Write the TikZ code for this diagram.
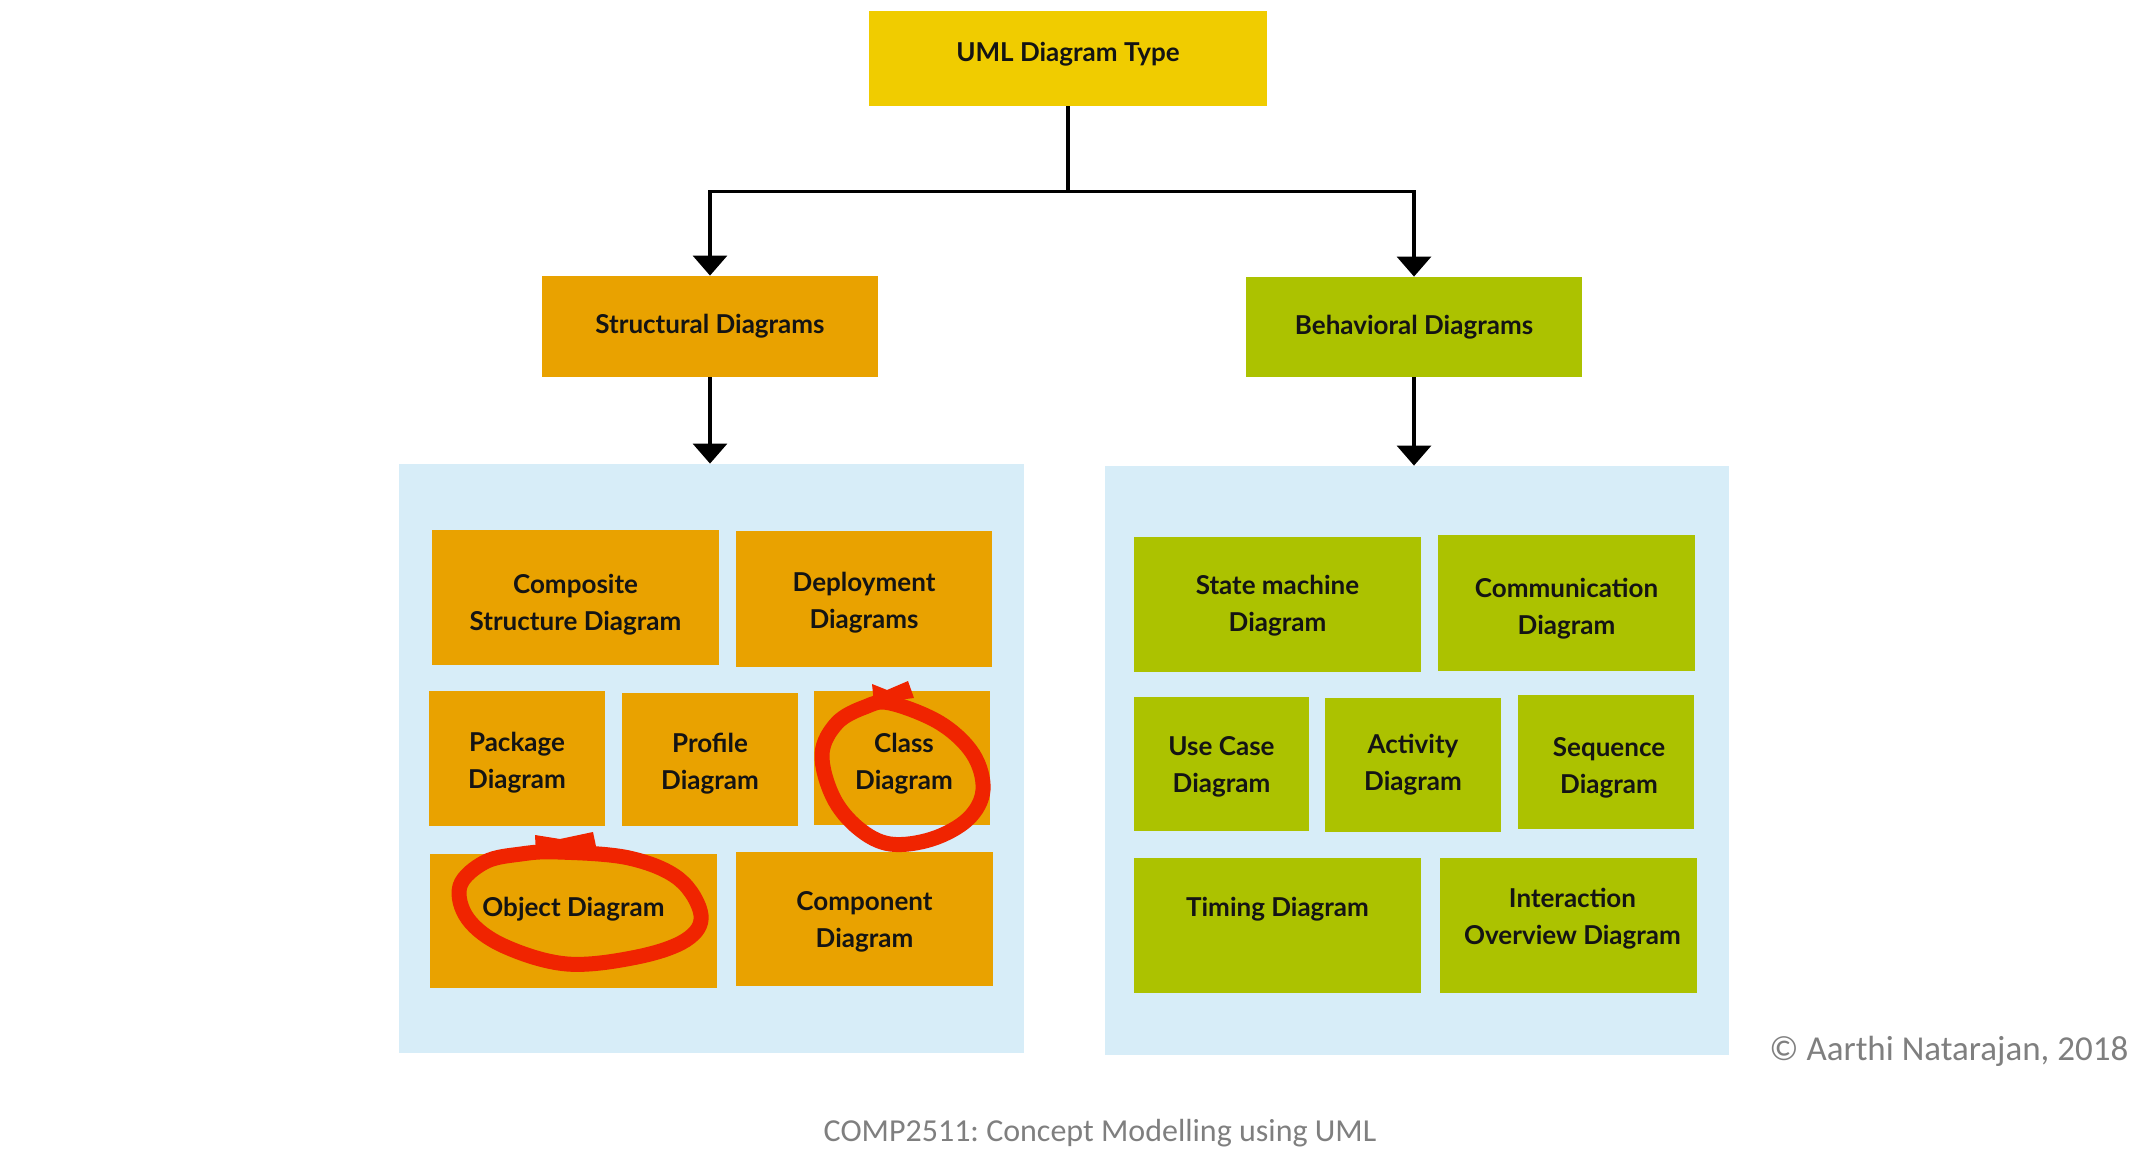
\documentclass[tikz,border=0pt]{standalone}
\usepackage{fontspec}
\setmainfont{Lato}
\newfontfamily\lato{Lato}
\newfontfamily\carl{Carlito}
\usetikzlibrary{arrows.meta}
\frenchspacing
\definecolor{umlyellow}{HTML}{F0CC00}
\definecolor{umlorange}{HTML}{E9A200}
\definecolor{umlgreen}{HTML}{ACC200}
\definecolor{umlpanel}{HTML}{D7EDF8}
\definecolor{umlred}{HTML}{F02400}
\definecolor{umlgray}{HTML}{7F7F7F}
\begin{document}
\begin{tikzpicture}[x=0.5pt,y=-0.5pt,
  lbl/.style={inner sep=0pt, align=center,
    font=\lato\bfseries\fontsize{13}{18.5}\selectfont, text=black!92},
  box/.style={rectangle, draw=none, inner sep=0pt},
  sbox/.style={box, fill=umlorange},
  bbox/.style={box, fill=umlgreen},
  panel/.style={rectangle, draw=none, fill=umlpanel, inner sep=0pt},
  conn/.style={line width=1.6pt, black},
  arr/.style={conn, -{Triangle[width=17pt,length=10pt]}},
  redmark/.style={umlred, line width=7.5pt, line join=round},
  graytext/.style={text=umlgray, inner sep=0pt}
]
\useasboundingbox (0,0) rectangle (2142,1154);

% panels
\node[panel, minimum width=312.5pt, minimum height=294.5pt] (lpanel) at (711.5,758.5) {};
\node[panel, minimum width=312pt, minimum height=294.5pt] (rpanel) at (1417,760.5) {};

% top level
\node[box, fill=umlyellow, minimum width=199pt, minimum height=47.5pt,
  label={[lbl,yshift=2pt]center:UML Diagram Type}] (top) at (1068,58.5) {};
\node[sbox, minimum width=168pt, minimum height=50.5pt,
  label={[lbl]center:Structural Diagrams}] (struct) at (710,326.5) {};
\node[bbox, minimum width=168pt, minimum height=50pt,
  label={[lbl]center:Behavioral Diagrams}] (behav) at (1414,327) {};

% structural diagrams
\node[sbox, minimum width=143.5pt, minimum height=67.5pt,
  label={[lbl,yshift=-3.4pt]center:{Composite\\Structure Diagram}}] (composite) at (575.5,597.5) {};
\node[sbox, minimum width=128pt, minimum height=68pt,
  label={[lbl,yshift=-2pt]center:{Deployment\\Diagrams}}] (deploy) at (864,599) {};
\node[sbox, minimum width=88pt, minimum height=67.5pt,
  label={[lbl,yshift=-2pt]center:{Package\\Diagram}}] (package) at (517,758.5) {};
\node[sbox, minimum width=88pt, minimum height=66.5pt,
  label={[lbl,yshift=-2pt]center:{Profile\\Diagram}}] (profile) at (710,759.5) {};
\node[sbox, minimum width=88pt, minimum height=67pt,
  label={[lbl,yshift=-2.7pt,xshift=1pt]center:{Class\\Diagram}}] (class) at (902,758) {};
\node[sbox, minimum width=143.5pt, minimum height=67pt,
  label={[lbl,yshift=6.1pt]center:Object Diagram}] (object) at (573.5,921) {};
\node[sbox, minimum width=128.5pt, minimum height=67pt,
  label={[lbl,yshift=-1.4pt]center:{Component\\Diagram}}] (component) at (864.5,919) {};

% behavioral diagrams
\node[bbox, minimum width=143.5pt, minimum height=67.5pt,
  label={[lbl,yshift=-0.7pt]center:{State machine\\Diagram}}] (state) at (1277.5,604.5) {};
\node[bbox, minimum width=128.5pt, minimum height=68pt,
  label={[lbl,yshift=-2.7pt]center:{Communication\\Diagram}}] (comm) at (1566.5,603) {};
\node[bbox, minimum width=87.5pt, minimum height=67pt,
  label={[lbl,yshift=-1.4pt]center:{Use Case\\Diagram}}] (usecase) at (1221.5,764) {};
\node[bbox, minimum width=88pt, minimum height=67pt,
  label={[lbl]center:{Activity\\Diagram}}] (activity) at (1413,765) {};
\node[bbox, minimum width=88pt, minimum height=67pt,
  label={[lbl,yshift=-2.7pt,xshift=1.5pt]center:{Sequence\\Diagram}}] (sequence) at (1606,762) {};
\node[bbox, minimum width=143.5pt, minimum height=67.5pt,
  label={[lbl,yshift=7.9pt]center:Timing Diagram}] (timing) at (1277.5,925.5) {};
\node[bbox, minimum width=128.5pt, minimum height=67.5pt,
  label={[lbl,yshift=3.4pt,xshift=2pt]center:{Interaction\\Overview Diagram}}] (interaction) at (1568.5,925.5) {};

% connectors
\draw[conn] (top.south) -- ++(0,85) coordinate (j);
\draw[arr] (j) -| (struct.north);
\draw[arr] (j) -| (behav.north);
\draw[arr] (struct.south) -- (struct.south |- lpanel.north);
\draw[arr] (behav.south) -- (behav.south |- rpanel.north);

% red hand-drawn marks
\draw[redmark] plot[smooth cycle, tension=0.6] coordinates {
  (890,703) (940,723) (973,754) (983,790) (968,819) (932,839)
  (890,844) (858,828) (833,797) (822,754) (837,723) (865,707)};
\fill[umlred] (872,684) -- (887,690) -- (908,681) -- (914,698) -- (874,703) -- cycle;
\draw[redmark] plot[smooth cycle, tension=0.6] coordinates {
  (558,852) (629,858) (679,879) (701,915) (686,940) (637,957)
  (567,964) (504,946) (468,919) (460,886) (485,862) (521,854)};
\fill[umlred] (535,835) -- (560,839) -- (593,832) -- (597,851) -- (536,854) -- cycle;

% footer texts
\node[graytext, font=\carl\fontsize{17.5}{20}\selectfont, anchor=west] (copy) at (1769,1051) {© Aarthi Natarajan, 2018};
\node[graytext, font=\carl\fontsize{16}{19}\selectfont] (footer) at (1100,1133) {COMP2511: Concept Modelling using UML};
\end{tikzpicture}
\end{document}
